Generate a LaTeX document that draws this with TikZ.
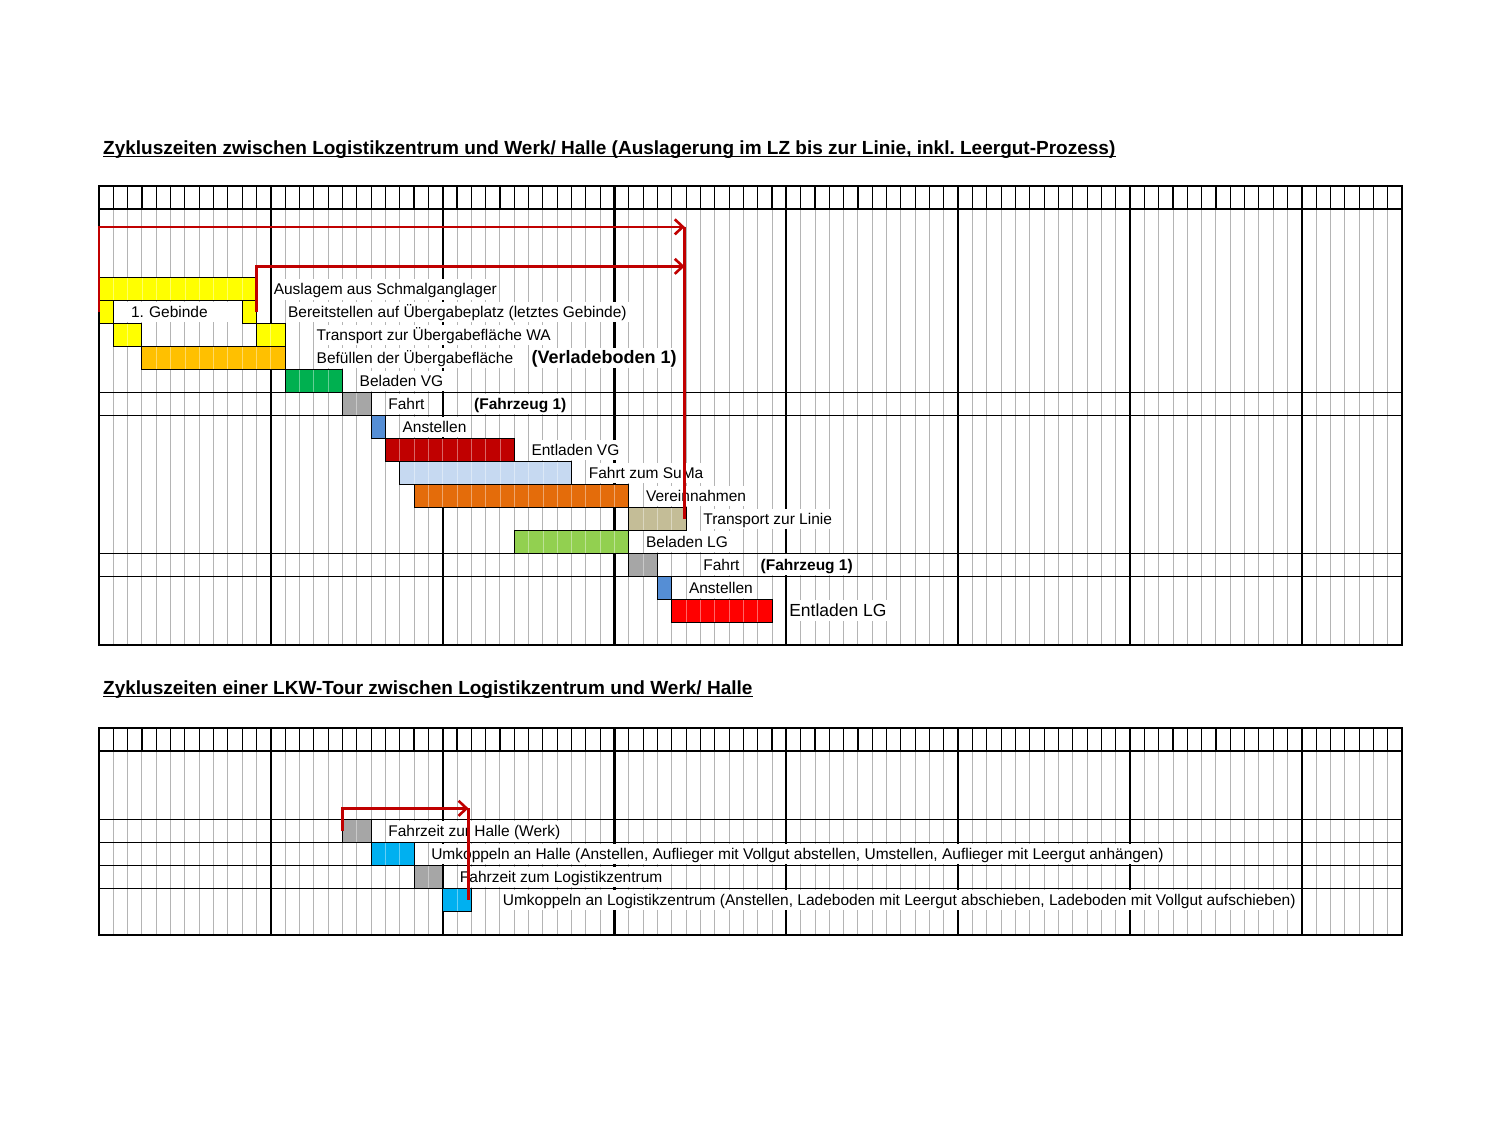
\documentclass[tikz,border=0pt]{standalone}
\usepackage{fontspec}
\setmainfont{Liberation Sans}
\usetikzlibrary{arrows.meta,positioning}

\definecolor{barYellow}{HTML}{FFFF00}
\definecolor{barGold}{HTML}{FFC000}
\definecolor{barGreen}{HTML}{00B050}
\definecolor{barGray}{HTML}{A6A6A6}
\definecolor{barBlue}{HTML}{558ED5}
\definecolor{barDarkRed}{HTML}{C00000}
\definecolor{barSky}{HTML}{C6D9F1}
\definecolor{barOrange}{HTML}{E46C0A}
\definecolor{barTan}{HTML}{C4BD97}
\definecolor{barLime}{HTML}{92D050}
\definecolor{barRed}{HTML}{FF0000}
\definecolor{barCyan}{HTML}{00B0F0}
\definecolor{arrowRed}{HTML}{C00000}
\definecolor{cellGray}{HTML}{B4B4B4}

\begin{document}
\frenchspacing
\begin{tikzpicture}[
    x=1pt, y=-1pt,
    cellline/.style={cellGray, line width=1pt},
    headline/.style={black, line width=1.1pt},
    weekline/.style={black, line width=2.2pt},
    rowline/.style={black, line width=1.3pt},
    frame/.style={black, line width=2pt},
    celled/.style={path picture={
        \foreach \i in {1,...,16}
          \draw[white, opacity=.4, line width=.8pt]
            ([xshift=\i*14.32pt]path picture bounding box.south west) --
            ([xshift=\i*14.32pt]path picture bounding box.north west);}},
    bar/.style 2 args={draw=black, line width=1pt, fill=#1, anchor=north west,
        inner sep=0pt, outer sep=0pt, minimum width=#2*14.32pt,
        minimum height=22.95pt, celled},
    lbl/.style={anchor=west, fill=white, inner xsep=2pt, inner ysep=0pt,
        minimum height=20.5pt, text height=12.5pt, text depth=1.5pt,
        font=\fontsize{15.5}{18}\selectfont},
    lblbold/.style={lbl, font=\fontsize{15.5}{18}\selectfont\bfseries},
    title/.style={anchor=base west, inner sep=0pt, font=\fontsize{19}{22}\selectfont\bfseries},
    redline/.style={arrowRed, line width=2.6pt},
    redarrow/.style={redline, -{Straight Barb[length=8pt, width=15pt]}},
]
\useasboundingbox (0,0) rectangle (1500,1125);

% ── Titles ──
\node[title] (head1) at (103,154) {Zykluszeiten zwischen Logistikzentrum und Werk/ Halle (Auslagerung im LZ bis zur Linie, inkl. Leergut-Prozess)};
\draw[line width=1.4pt] ([yshift=-2.5pt]head1.base west) -- ([yshift=-2.5pt]head1.base east);
\node[title] (head2) at (103,694) {Zykluszeiten einer LKW-Tour zwischen Logistikzentrum und Werk/ Halle};
\draw[line width=1.4pt] ([yshift=-2.5pt]head2.base west) -- ([yshift=-2.5pt]head2.base east);

% ── Chart 1: Auslagerung bis Linie ──
\begin{scope}[shift={(99,186)}, x=14.32pt, y=-22.95pt]
  \foreach \c in {1,...,90} \draw[cellline] (\c,1) -- (\c,20);
  \foreach \c in {1,...,90} \draw[headline] (\c,0) -- (\c,1);
  \foreach \c in {12,24,...,84} \draw[weekline] (\c,0) -- (\c,20);
  \foreach \r in {1,9,10,16,17} \draw[rowline] (0,\r) -- (91,\r);
  \draw[frame] (0,0) rectangle (91,20);

  % labels
  \node[lbl] (lausl) at (12.05,4.5) {Auslagem aus Schmalganglager};
  \node[lbl, inner xsep=17.5pt, text width=94pt, align=left] (lgeb) at (1,5.5) {1. Gebinde};
  \node[lbl] (lbereit) at (13.05,5.5) {Bereitstellen auf Übergabeplatz (letztes Gebinde)};
  \node[lbl] (ltrans) at (15.05,6.5) {Transport zur Übergabefläche WA};
  \node[lbl] (lbef) at (15.05,7.5) {Befüllen der Übergabefläche};
  \node[lblbold, font=\fontsize{18}{20}\selectfont\bfseries] (lvb) at (30.05,7.5) {(Verladeboden 1)};
  \node[lbl] (lblvg) at (18.05,8.5) {Beladen VG};
  \node[lbl] (lf1) at (20.05,9.5) {Fahrt};
  \node[lblbold] (lfz1) at (26.05,9.5) {(Fahrzeug 1)};
  \node[lbl] (lan1) at (21.05,10.5) {Anstellen};
  \node[lbl] (levg) at (30.05,11.5) {Entladen VG};
  \node[lbl] (lsuma) at (34.05,12.5) {Fahrt zum SuMa};
  \node[lbl] (lver) at (38.05,13.5) {Vereinnahmen};
  \node[lbl] (ltl) at (42.05,14.5) {Transport zur Linie};
  \node[lbl] (lblg) at (38.05,15.5) {Beladen LG};
  \node[lbl] (lf2) at (42.05,16.5) {Fahrt};
  \node[lblbold] (lfz2) at (46.05,16.5) {(Fahrzeug 1)};
  \node[lbl] (lan2) at (41.05,17.5) {Anstellen};
  \node[lbl, font=\fontsize{17.5}{20}\selectfont, text height=14pt] (lelg) at (48.05,18.5) {Entladen LG};

  % bars
  \node[bar={barYellow}{11}] (ausl) at (0,4) {};
  \node[bar={barYellow}{1}] (g1) at (0,5) {};
  \node[bar={barYellow}{1}] (g2) at (10,5) {};
  \node[bar={barYellow}{2}] (tr1) at (1,6) {};
  \node[bar={barYellow}{2}] (tr2) at (11,6) {};
  \node[bar={barGold}{10}] (bef) at (3,7) {};
  \node[bar={barGreen}{4}] (blvg) at (13,8) {};
  \node[bar={barGray}{2}] (f1) at (17,9) {};
  \node[bar={barBlue}{1}] (an1) at (19,10) {};
  \node[bar={barDarkRed}{9}] (evg) at (20,11) {};
  \node[bar={barSky}{12}] (suma) at (21,12) {};
  \node[bar={barOrange}{15}] (ver) at (22,13) {};
  \node[bar={barTan}{4}] (tl) at (37,14) {};
  \node[bar={barLime}{8}] (blg) at (29,15) {};
  \node[bar={barGray}{2}] (f2) at (37,16) {};
  \node[bar={barBlue}{1}] (an2) at (39,17) {};
  \node[bar={barRed}{7}] (elg) at (40,18) {};

  % arrows
  \coordinate (hi1) at (40.9,1.78);
  \coordinate (hi2) at (40.9,3.5);
  \draw[redline] (hi1) -- (hi1 |- tl.east);
  \draw[redarrow] (g1.west) |- (hi1);
  \draw[redarrow] (g2.east) |- (hi2);
\end{scope}

% ── Chart 2: LKW-Tour ──
\begin{scope}[shift={(99,728)}, x=14.32pt, y=-22.95pt]
  \foreach \c in {1,...,90} \draw[cellline] (\c,1) -- (\c,9);
  \foreach \c in {1,...,90} \draw[headline] (\c,0) -- (\c,1);
  \foreach \c in {12,24,...,84} \draw[weekline] (\c,0) -- (\c,9);
  \foreach \r in {1,4,5,6,7} \draw[rowline] (0,\r) -- (91,\r);
  \draw[frame] (0,0) rectangle (91,9);

  % labels
  \node[lbl] (lfzh) at (20.05,4.5) {Fahrzeit zur Halle (Werk)};
  \node[lbl] (lukh) at (23.05,5.5) {Umkoppeln an Halle (Anstellen, Auflieger mit Vollgut abstellen, Umstellen, Auflieger mit Leergut anhängen)};
  \node[lbl] (lfzl) at (25.05,6.5) {Fahrzeit zum Logistikzentrum};
  \node[lbl] (lukl) at (28.05,7.5) {Umkoppeln an Logistikzentrum (Anstellen, Ladeboden mit Leergut abschieben, Ladeboden mit Vollgut aufschieben)};

  % bars
  \node[bar={barGray}{2}] (fz1) at (17,4) {};
  \node[bar={barCyan}{3}] (uk1) at (19,5) {};
  \node[bar={barGray}{2}] (fz2) at (22,6) {};
  \node[bar={barCyan}{2}] (uk2) at (24,7) {};

  % arrows
  \coordinate (hi3) at (25.8,3.5);
  \draw[redline] (hi3) -- (hi3 |- uk2.east);
  \draw[redarrow] (fz1.west) |- (hi3);
\end{scope}

\end{tikzpicture}
\end{document}
